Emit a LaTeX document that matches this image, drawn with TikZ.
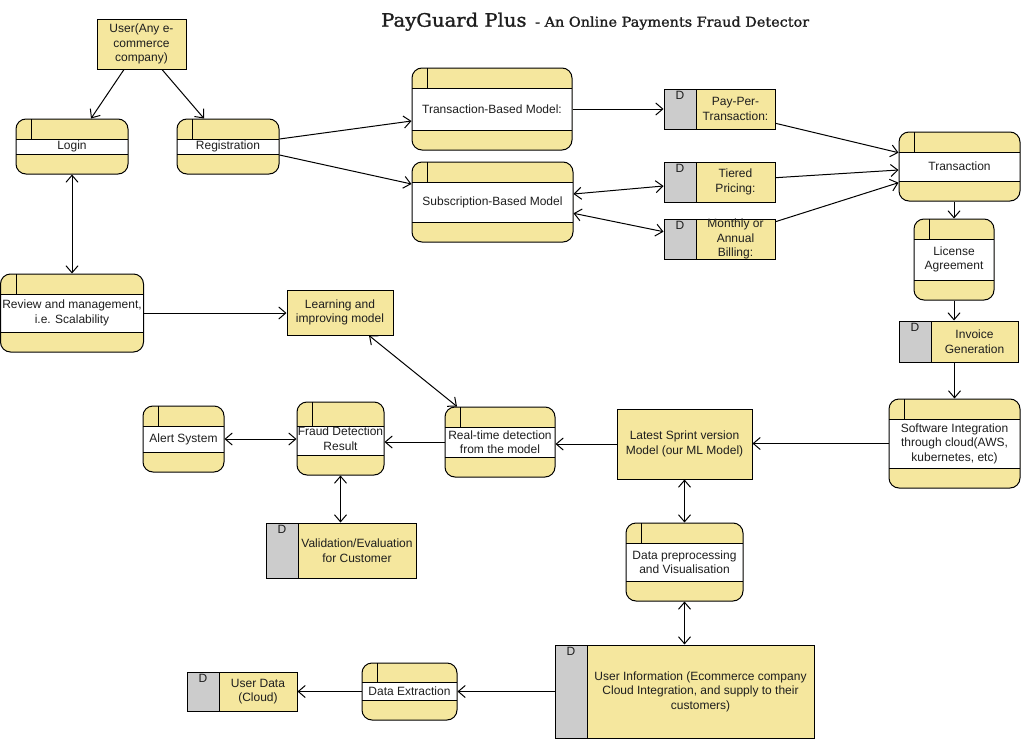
\documentclass[tikz,border=0pt]{standalone}
\usepackage{fontspec}
\setmainfont{Liberation Sans}
\newfontfamily\titlefont[FakeBold=1.3,FakeStretch=1.06]{DejaVu Serif}
\usetikzlibrary{arrows.meta}
\definecolor{pyellow}{RGB}{245,231,158}
\definecolor{pgray}{RGB}{204,204,204}
\definecolor{ptext}{RGB}{30,30,30}
\tikzset{hdr/.store in=\prochdr, hdr=20}
\begin{document}
\begin{tikzpicture}[x=1pt,y=-1pt,
  every node/.style={font=\fontsize{12}{14.5}\selectfont, text=ptext},
  plainbox/.style={draw=black, line width=1pt, fill=pyellow, rectangle, inner sep=0pt, align=center},
  proc/.style={draw=black, line width=1pt, fill=pyellow, rounded corners=10pt, rectangle, inner sep=0pt, align=center,
    path picture={
      \begin{scope}[sharp corners]
      \fill[white] ([yshift=-\prochdr pt]path picture bounding box.north west) rectangle ([yshift=20pt]path picture bounding box.south east);
      \draw[line width=1pt] ([yshift=-\prochdr pt]path picture bounding box.north west) -- ([yshift=-\prochdr pt]path picture bounding box.north east);
      \draw[line width=1pt] ([yshift=20pt]path picture bounding box.south west) -- ([yshift=20pt]path picture bounding box.south east);
      \draw[line width=1pt] ([xshift=15.5pt]path picture bounding box.north west) -- ([xshift=15.5pt,yshift=-\prochdr pt]path picture bounding box.north west);
      \end{scope}
    }},
  store/.style={draw=black, line width=1pt, fill=pyellow, rectangle, inner sep=0pt,
    path picture={
      \fill[pgray] (path picture bounding box.north west) rectangle ([xshift=32pt]path picture bounding box.south west);
      \draw[line width=1pt] ([xshift=32pt]path picture bounding box.north west) -- ([xshift=32pt]path picture bounding box.south west);
      \node[anchor=north, inner sep=0pt, minimum width=0pt, minimum height=0pt, draw=none, fill=none] at ([xshift=16pt,yshift=-2pt]path picture bounding box.north west) {D};
    }},
  stxt/.style={align=center, inner sep=0pt},
  conn/.style={draw=black, line width=1pt, -{Straight Barb[length=7pt,width=12pt,line width=1pt]}},
  bi/.style={draw=black, line width=1pt, {Straight Barb[length=7pt,width=12pt,line width=1pt]}-{Straight Barb[length=7pt,width=12pt,line width=1pt]}}
]
\fill[white] (0,0) rectangle (1021,739);
\useasboundingbox (0,0) rectangle (1021,739);

% title
\node[anchor=base west, inner sep=0pt, font=\titlefont\fontsize{18.5}{20}\selectfont] (title) at (381,26.7) {PayGuard Plus};
\node[anchor=base west, inner sep=0pt, font=\titlefont\fontsize{13.6}{15}\selectfont] (subtitle) at (535,26.7) {- An Online Payments Fraud Detector};

% nodes
\node[plainbox, minimum width=89pt, minimum height=50pt] (user) at (141.5,44) {User(Any e-\\commerce\\company)};
\node[proc, minimum width=112pt, minimum height=55pt] (login) at (72,146.5) {Login};
\node[proc, minimum width=102pt, minimum height=55pt] (reg) at (228,146.5) {Registration};
\node[proc, minimum width=160pt, minimum height=82pt] (tbm) at (492,109) {Transaction-Based Model:};
\node[proc, minimum width=161pt, minimum height=80pt] (sbm) at (492.5,202) {Subscription-Based Model};
\node[store, minimum width=111pt, minimum height=40pt] (ppt) at (719.5,109) {};
\node[stxt] (ppt-t) at (735.5,109) {Pay-Per-\\Transaction:};
\node[store, minimum width=111pt, minimum height=40pt] (tier) at (719.5,182) {};
\node[stxt] (tier-t) at (735.5,182) {Tiered\\Pricing:};
\node[store, minimum width=111pt, minimum height=40pt] (month) at (719.5,239) {};
\node[stxt] (month-t) at (735.5,239) {Monthly or\\Annual\\Billing:};
\node[proc, minimum width=121pt, minimum height=69pt] (trans) at (959.5,166.5) {Transaction};
\node[proc, minimum width=80pt, minimum height=81pt] (lic) at (954,259.5) {License\\Agreement};
\node[store, minimum width=119pt, minimum height=41pt] (inv) at (958.5,341.5) {};
\node[stxt] (inv-t) at (974.5,341.5) {Invoice\\Generation};
\node[proc, minimum width=131pt, minimum height=89pt] (si) at (954.5,443.5) {Software Integration\\through cloud(AWS,\\kubernetes, etc)};
\node[proc, minimum width=143pt, minimum height=78pt] (review) at (72,313) {Review and management,\\i.e. Scalability};
\node[plainbox, minimum width=106pt, minimum height=45pt] (learn) at (340,312.5) {Learning and\\improving model};
\node[proc, minimum width=110pt, minimum height=70pt] (rt) at (500,442) {Real-time detection\\from the model};
\node[proc, hdr=24, minimum width=87pt, minimum height=73pt] (fraud) at (340.5,438.5) {Fraud Detection\\Result};
\node[proc, minimum width=81pt, minimum height=66pt] (alert) at (183.5,439) {Alert System};
\node[store, minimum width=150pt, minimum height=55pt] (valid) at (341,550.5) {};
\node[stxt] (valid-t) at (357,550.5) {Validation/Evaluation\\for Customer};
\node[plainbox, minimum width=135pt, minimum height=70pt] (latest) at (684.5,444) {Latest Sprint version\\Model (our ML Model)};
\node[proc, minimum width=117pt, minimum height=78pt] (dpre) at (684.5,562) {Data preprocessing\\and Visualisation};
\node[store, minimum width=259pt, minimum height=93pt] (uinfo) at (684.5,691.5) {};
\node[stxt] (uinfo-t) at (700.5,691.5) {User Information (Ecommerce company\\Cloud Integration, and supply to their\\customers)};
\node[proc, hdr=19, minimum width=95pt, minimum height=57pt] (dext) at (409.5,691.5) {Data Extraction};
\node[store, minimum width=110pt, minimum height=39pt] (udata) at (242,691.5) {};
\node[stxt] (udata-t) at (258,691.5) {User Data\\(Cloud)};

% connectors
\draw[conn] ([xshift=-17.5pt]user.south) -- ([xshift=19pt]login.north);
\draw[conn] ([xshift=20.5pt]user.south) -- ([xshift=-24pt]reg.north);
\draw[conn] ([yshift=7.5pt]reg.east) -- ([yshift=-12pt]tbm.west);
\draw[conn] ([yshift=-8.5pt]reg.east) -- ([yshift=18pt]sbm.west);
\draw[conn] (tbm.east) -- (ppt.west);
\draw[bi] ([yshift=8pt]sbm.east) -- ([yshift=-4pt]tier.west);
\draw[bi] ([yshift=-11.3pt]sbm.east) -- ([yshift=7.3pt]month.west);
\draw[conn] ([yshift=-14.3pt]ppt.east) -- ([yshift=13.8pt]trans.west);
\draw[conn] ([yshift=4.3pt]tier.east) -- ([yshift=-3.5pt]trans.west);
\draw[conn] ([yshift=17.3pt]month.east) -- ([yshift=-16.2pt]trans.west);
\draw[conn] (lic.north |- trans.south) -- (lic.north);
\draw[conn] (lic.south) -- (lic.south |- inv.north);
\draw[conn] (si.north |- inv.south) -- (si.north);
\draw[conn] (si.west) -- (si.west -| latest.east);
\draw[conn] (latest.west) -- (latest.west -| rt.east);
\draw[conn] (rt.west) -- (rt.west -| fraud.east);
\draw[bi] (alert.east) -- (alert.east -| fraud.west);
\draw[bi] (fraud.south) -- (fraud.south |- valid.north);
\draw[bi] ([xshift=29pt]learn.south) -- ([xshift=-43pt]rt.north);
\draw[conn] (review.east) -- (review.east -| learn.west);
\draw[bi] (login.south) -- (login.south |- review.north);
\draw[bi] (latest.south) -- (dpre.north);
\draw[bi] (dpre.south) -- (dpre.south |- uinfo.north);
\draw[conn] (uinfo.west) -- (uinfo.west -| dext.east);
\draw[conn] (dext.west) -- (dext.west -| udata.east);
\end{tikzpicture}
\end{document}
